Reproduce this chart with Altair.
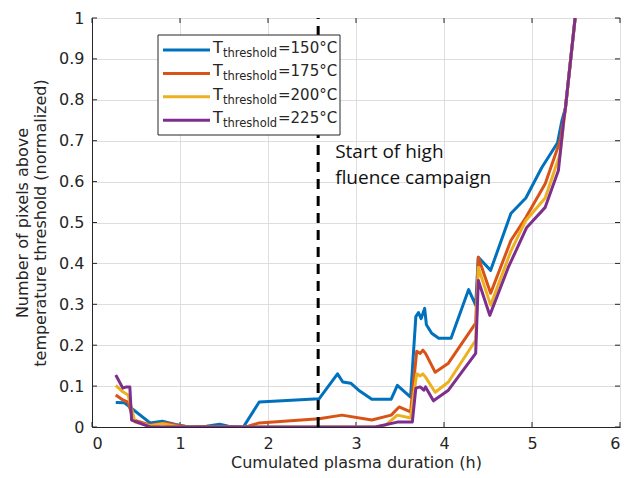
import altair as alt
import pandas as pd

# ---------------- data ----------------
series_labels = ["=150°C", "=175°C", "=200°C", "=225°C"]
series_colors = ["#0072BD", "#D95319", "#EDB120", "#7E2F8E"]

x150 = [0.27, 0.37, 0.43, 0.66, 0.80, 0.95, 1.10, 1.30, 1.45, 1.55, 1.72, 1.90, 2.58, 2.79, 2.85,
        2.94, 3.03, 3.18, 3.40, 3.47, 3.62, 3.68, 3.71, 3.74, 3.78, 3.80, 3.86, 3.94, 4.08, 4.28,
        4.36, 4.39, 4.53, 4.76, 4.93, 5.11, 5.29, 5.34, 5.38, 5.49]
y150 = [0.060, 0.059, 0.049, 0.010, 0.014, 0.006, 0.000, 0.002, 0.007, 0.002, 0.000, 0.061, 0.069, 0.130, 0.110,
        0.107, 0.090, 0.068, 0.068, 0.102, 0.073, 0.270, 0.280, 0.265, 0.290, 0.250, 0.229, 0.217, 0.217, 0.336,
        0.298, 0.415, 0.383, 0.522, 0.560, 0.634, 0.695, 0.749, 0.780, 1.000]

x175 = [0.27, 0.35, 0.41, 0.47, 0.66, 0.83, 1.00, 1.10, 1.75, 1.90, 2.58, 2.84, 3.18, 3.40, 3.49,
        3.62, 3.69, 3.73, 3.76, 3.79, 3.90, 4.05, 4.36, 4.39, 4.53, 4.76, 4.93, 5.15, 5.32, 5.38, 5.49]
y175 = [0.078, 0.066, 0.061, 0.017, 0.005, 0.010, 0.003, 0.000, 0.000, 0.010, 0.020, 0.029, 0.017, 0.029, 0.049,
        0.037, 0.185, 0.180, 0.188, 0.180, 0.134, 0.156, 0.254, 0.415, 0.327, 0.456, 0.512, 0.595, 0.700, 0.780, 1.000]

x200 = [0.27, 0.35, 0.41, 0.49, 0.66, 0.80, 1.00, 3.22, 3.34, 3.47, 3.62, 3.69, 3.73, 3.76, 3.79,
        3.90, 4.05, 4.36, 4.39, 4.53, 4.76, 4.93, 5.15, 5.32, 5.38, 5.49]
y200 = [0.102, 0.086, 0.078, 0.012, 0.003, 0.008, 0.000, 0.000, 0.005, 0.029, 0.022, 0.130, 0.125, 0.130, 0.122,
        0.085, 0.110, 0.212, 0.390, 0.298, 0.430, 0.505, 0.560, 0.668, 0.780, 1.000]

x225 = [0.27, 0.35, 0.39, 0.43, 0.45, 0.66, 3.22, 3.47, 3.64, 3.68, 3.73, 3.77, 3.79, 3.88, 4.05,
        4.36, 4.39, 4.52, 4.73, 4.94, 5.15, 5.30, 5.36, 5.38, 5.49]
y225 = [0.127, 0.095, 0.098, 0.098, 0.017, 0.000, 0.000, 0.012, 0.012, 0.095, 0.098, 0.090, 0.098, 0.064, 0.090,
        0.180, 0.358, 0.273, 0.390, 0.488, 0.537, 0.627, 0.749, 0.780, 1.000]

campaign_start = 2.57
x_ticks = [0, 1, 2, 3, 4, 5, 6]
y_ticks = [0, 0.1, 0.2, 0.3, 0.4, 0.5, 0.6, 0.7, 0.8, 0.9, 1.0]

# ---------------- chart ----------------
W, H = 528, 409
INK = "#262626"
FONT = "DejaVu Sans"

xscale = alt.Scale(domain=[0, 6], nice=False, zero=False)
yscale = alt.Scale(domain=[0, 1], nice=False, zero=False)
xaxis = alt.Axis(values=x_ticks, title="Cumulated plasma duration (h)", format="d",
                 labelPadding=8, titlePadding=3)
yaxis = alt.Axis(values=y_ticks, title=["Number of pixels above", "temperature threshold (normalized)"],
                 format=".1~f", labelPadding=8, titlePadding=10)


def X(field):
    return alt.X(field, type="quantitative", scale=xscale, axis=xaxis)


def Y(field):
    return alt.Y(field, type="quantitative", scale=yscale, axis=yaxis)


one = pd.DataFrame({"a": [0]})

# inward tick marks on all four sides
xt = pd.DataFrame({"t": x_ticks})
yt = pd.DataFrame({"t": y_ticks})
tick_style = dict(color=INK, strokeWidth=1)
ticks = [
    alt.Chart(xt).mark_rule(**tick_style).encode(x=X("t"), y=alt.value(H), y2=alt.value(H - 5)),
    alt.Chart(xt).mark_rule(**tick_style).encode(x=X("t"), y=alt.value(0), y2=alt.value(5)),
    alt.Chart(yt).mark_rule(**tick_style).encode(y=Y("t"), x=alt.value(0), x2=alt.value(5)),
    alt.Chart(yt).mark_rule(**tick_style).encode(y=Y("t"), x=alt.value(W), x2=alt.value(W - 5)),
]

lines = []
for xs, ys, col in [(x150, y150, series_colors[0]), (x175, y175, series_colors[1]),
                    (x200, y200, series_colors[2]), (x225, y225, series_colors[3])]:
    df = pd.DataFrame({"x": xs, "y": ys, "i": list(range(len(xs)))})
    lines.append(
        alt.Chart(df).mark_line(color=col, strokeWidth=3, strokeJoin="round", clip=True)
        .encode(x=X("x"), y=Y("y"), order="i:Q")
    )

vline = alt.Chart(pd.DataFrame({"x": [campaign_start], "y0": [0], "y1": [1]})).mark_rule(
    color="black", strokeWidth=3, strokeDash=[10, 7]
).encode(x=X("x"), y=Y("y0"), y2="y1")

note = alt.Chart(pd.DataFrame({"x": [campaign_start], "y": [0.672]})).mark_text(
    text=["Start of high", "fluence campaign"], align="left", baseline="middle",
    dx=17, font="Open Sans", fontSize=19, lineHeight=26, color="#111111"
).encode(x=X("x"), y=Y("y"))

# legend (drawn manually for the subscript)
legend = [
    alt.Chart(one).mark_rect(fill="white", stroke=INK, strokeWidth=1).encode(
        x=alt.value(66), x2=alt.value(248), y=alt.value(17), y2=alt.value(117))
]
for k, (lab, col) in enumerate(zip(series_labels, series_colors)):
    ry = 32 + k * 23.4
    legend.append(alt.Chart(one).mark_rule(color=col, strokeWidth=3).encode(
        x=alt.value(71), x2=alt.value(118), y=alt.value(ry)))
    legend.append(alt.Chart(one).mark_text(text="T", align="left", baseline="middle",
                                           font=FONT, fontSize=16, color=INK).encode(
        x=alt.value(121), y=alt.value(ry - 2)))
    legend.append(alt.Chart(one).mark_text(text="threshold", align="left", baseline="middle",
                                           font=FONT, fontSize=11.5, color=INK).encode(
        x=alt.value(131), y=alt.value(ry + 4)))
    legend.append(alt.Chart(one).mark_text(text=lab, align="left", baseline="middle",
                                           font=FONT, fontSize=15, color=INK).encode(
        x=alt.value(186), y=alt.value(ry - 2)))

chart = alt.layer(*ticks, *lines, vline, note, *legend).properties(
    width=W, height=H,
    autosize=alt.AutoSizeParams(type="none"),
    padding={"left": 84, "top": 10, "right": 10, "bottom": 50},
).configure_axis(
    labelFont=FONT, labelFontSize=16, labelColor=INK,
    titleFont=FONT, titleFontSize=16, titleFontWeight="normal", titleColor=INK,
    gridColor="#dedede", gridWidth=1, domainColor=INK, ticks=False,
).configure_view(stroke=INK, strokeWidth=1)

chart.save("out.html", embed_options={"renderer": "svg", "actions": False})
